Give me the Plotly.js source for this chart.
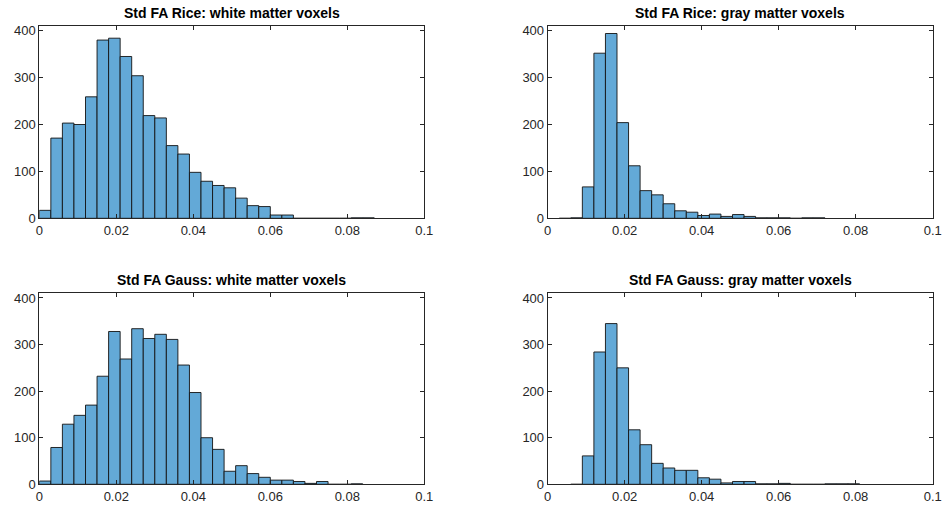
<!DOCTYPE html>
<html>
<head>
<meta charset="utf-8">
<script src="https://cdn.plot.ly/plotly-3.0.1.min.js"></script>
<style>
html,body{margin:0;padding:0;background:#fff;}
#chart{width:942px;height:510px;}
</style>
</head>
<body>
<div id="chart"></div>
<script>
// Bin width shared by all histograms
const binWidth = 0.003;

// Std FA Rice: white matter voxels (bins start at 0)
const riceWhiteStart = 0.0;
const riceWhiteCounts = [17,171,203,200,259,380,384,345,304,219,214,155,137,98,79,70,65,43,27,25,7,7,0,0,0,0,0,1,1];

// Std FA Rice: gray matter voxels (bins start at 0.003)
const riceGrayStart = 0.003;
const riceGrayCounts = [0,1,67,352,394,204,112,59,50,31,16,13,6,9,4,8,4,1,1,1,0,1,1];

// Std FA Gauss: white matter voxels (bins start at 0)
const gaussWhiteStart = 0.0;
const gaussWhiteCounts = [7,79,129,148,170,232,328,269,334,313,322,311,256,197,100,75,28,40,23,15,9,9,6,2,6,0,0,1];

// Std FA Gauss: gray matter voxels (bins start at 0.006)
const gaussGrayStart = 0.006;
const gaussGrayCounts = [0,61,284,345,250,117,85,45,35,30,30,14,11,3,6,6,1,1,2,0,0,0,1,1,1];

const titles = [
  "Std FA Rice: white matter voxels",
  "Std FA Rice: gray matter voxels",
  "Std FA Gauss: white matter voxels",
  "Std FA Gauss: gray matter voxels"
];

const xTickVals = [0, 0.02, 0.04, 0.06, 0.08, 0.1];
const xTickText = ["0", "0.02", "0.04", "0.06", "0.08", "0.1"];
const yTickVals = [0, 100, 200, 300, 400];

function edges(start, counts) {
  return counts.map((_, i) => +(start + i * binWidth).toFixed(6));
}

const sets = [
  [riceWhiteStart, riceWhiteCounts],
  [riceGrayStart, riceGrayCounts],
  [gaussWhiteStart, gaussWhiteCounts],
  [gaussGrayStart, gaussGrayCounts]
];

const fillColor = "#63A9D7";
const edgeColor = "rgba(20,20,20,0.9)";
const axisColor = "#262626";
const fontFam = "'Liberation Sans', Arial, Helvetica, sans-serif";

const traces = sets.map((s, i) => ({
  type: "bar",
  x: edges(s[0], s[1]),
  y: s[1],
  width: binWidth,
  offset: 0,
  marker: {color: fillColor, line: {color: edgeColor, width: 1}},
  xaxis: i === 0 ? "x" : "x" + (i + 1),
  yaxis: i === 0 ? "y" : "y" + (i + 1),
  hoverinfo: "x+y",
  showlegend: false
}));

const xDomL = [39.3/942, 424.3/942];
const xDomR = [547.7/942, 932.7/942];
const yDomT = [1 - 218.3/510, 1 - 26/510];
const yDomB = [1 - 484.3/510, 1 - 293.3/510];

function xax(dom, anchor) {
  return {
    domain: dom, anchor: anchor, range: [0, 0.1],
    tickvals: xTickVals, ticktext: xTickText,
    ticks: "inside", ticklen: 4, tickwidth: 1, tickcolor: axisColor,
    showline: true, linecolor: axisColor, linewidth: 1, mirror: "ticks",
    showgrid: false, zeroline: false,
    tickfont: {family: fontFam, size: 13, color: axisColor},
    fixedrange: true
  };
}
function yax(dom, anchor) {
  return {
    domain: dom, anchor: anchor, range: [0, 410],
    tickvals: yTickVals,
    ticks: "inside", ticklen: 4, tickwidth: 1, tickcolor: axisColor,
    showline: true, linecolor: axisColor, linewidth: 1, mirror: "ticks",
    showgrid: false, zeroline: false,
    tickfont: {family: fontFam, size: 13, color: axisColor},
    fixedrange: true
  };
}

const panelDoms = [[xDomL, yDomT], [xDomR, yDomT], [xDomL, yDomB], [xDomR, yDomB]];
const annotations = titles.map((t, i) => ({
  text: "<b>" + t + "</b>",
  xref: "paper", yref: "paper",
  x: (panelDoms[i][0][0] + panelDoms[i][0][1]) / 2,
  y: panelDoms[i][1][1],
  xanchor: "center", yanchor: "bottom",
  yshift: 3,
  showarrow: false,
  font: {family: fontFam, size: 14, color: "#000"}
}));

const layout = {
  width: 942, height: 510,
  margin: {l: 0, r: 0, t: 0, b: 0},
  paper_bgcolor: "#fff", plot_bgcolor: "#fff",
  bargap: 0,
  xaxis: xax(xDomL, "y"), yaxis: yax(yDomT, "x"),
  xaxis2: xax(xDomR, "y2"), yaxis2: yax(yDomT, "x2"),
  xaxis3: xax(xDomL, "y3"), yaxis3: yax(yDomB, "x3"),
  xaxis4: xax(xDomR, "y4"), yaxis4: yax(yDomB, "x4"),
  annotations: annotations,
  showlegend: false
};

Plotly.newPlot("chart", traces, layout, {displayModeBar: false, staticPlot: true});
</script>
</body>
</html>
